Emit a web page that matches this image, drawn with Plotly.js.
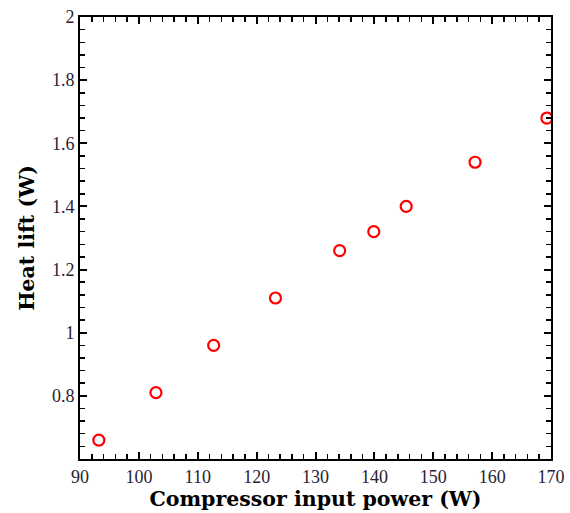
<!DOCTYPE html>
<html>
<head>
<meta charset="utf-8">
<script src="https://cdn.plot.ly/plotly-3.0.1.min.js"></script>
<style>html,body{margin:0;padding:0;background:#fff;}#chart{width:570px;height:513px;}</style>
</head>
<body>
<div id="chart"></div>
<script>
const powerW = [93.2, 102.9, 112.7, 123.2, 134.1, 139.9, 145.4, 157.1, 169.3];
const heatLiftW = [0.66, 0.81, 0.96, 1.11, 1.26, 1.32, 1.40, 1.54, 1.68];
const yTickVals = [0.8, 1, 1.2, 1.4, 1.6, 1.8, 2];
const yTickText = ["0.8", "1", "1.2", "1.4", "1.6", "1.8", "2"];
const xTickVals = [90, 100, 110, 120, 130, 140, 150, 160, 170];

const tickFont = {family: "Liberation Serif, Times New Roman, serif", size: 18, color: "#2a2233"};
const titleFont = {family: "DejaVu Serif, serif", size: 20.5, color: "#000", weight: "bold"};

const trace = {
  x: powerW, y: heatLiftW, type: "scatter", mode: "markers",
  marker: {symbol: "circle-open", size: 11, color: "#ff0000", line: {width: 2.2, color: "#ff0000"}},
  hoverinfo: "skip"
};

const axisCommon = {
  showgrid: false, zeroline: false, showline: true, linecolor: "#000", linewidth: 2,
  mirror: "ticks", ticks: "inside", ticklen: 7, tickwidth: 2, tickcolor: "#000",
  tickfont: tickFont
};

const layout = {
  width: 570, height: 513,
  margin: {l: 80, r: 19, t: 17, b: 54},
  paper_bgcolor: "#fff", plot_bgcolor: "#fff",
  showlegend: false,
  xaxis: Object.assign({}, axisCommon, {
    range: [90, 170], tickmode: "array", tickvals: xTickVals,
    minor: {dtick: 2, tick0: 90, ticks: "inside", ticklen: 5, tickwidth: 1.5, tickcolor: "#000"},
    title: {text: "Compressor input power (W)", font: titleFont, standoff: 6}
  }),
  yaxis: Object.assign({}, axisCommon, {
    range: [0.6, 2], tickmode: "array", tickvals: yTickVals, ticktext: yTickText,
    minor: {dtick: 0.04, tick0: 0.6, ticks: "inside", ticklen: 5, tickwidth: 1.5, tickcolor: "#000"},
    title: {text: "Heat lift (W)", font: titleFont, standoff: 12}
  })
};

Plotly.newPlot("chart", [trace], layout, {displayModeBar: false, staticPlot: true});
</script>
</body>
</html>
